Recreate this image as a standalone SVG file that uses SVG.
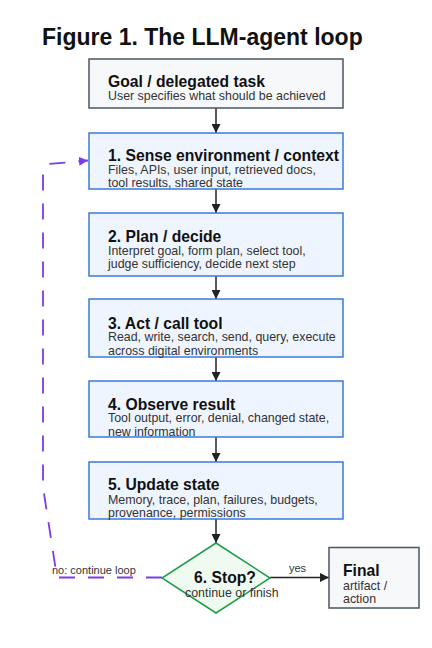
<svg xmlns="http://www.w3.org/2000/svg" width="432" height="648" viewBox="0 0 432 648">
<defs>
<style>
.ttl{font-family:"Liberation Sans",Arial,sans-serif;font-weight:bold;font-size:23px;fill:#111}
.h{font-family:"Liberation Sans",Arial,sans-serif;font-weight:bold;font-size:15.7px;fill:#111}
.s{font-family:"Liberation Sans",Arial,sans-serif;font-size:12.4px;fill:#333}
.l{font-family:"Liberation Sans",Arial,sans-serif;font-size:11px;fill:#333}
.step{fill:#eef5ff;stroke:#3b78e0;stroke-width:1.5}
.term{fill:#f7f8fa;stroke:#4b5563;stroke-width:1.5}
.dec{fill:#effbf1;stroke:#1f9d4a;stroke-width:1.5}
.e{stroke:#222;stroke-width:1.5;fill:none}
.loop{stroke:#7c3aed;stroke-width:1.8;fill:none;stroke-dasharray:16 13}
</style>
<marker id="ah" viewBox="0 0 10 10" refX="10" refY="5" markerWidth="9" markerHeight="9" markerUnits="userSpaceOnUse" orient="auto">
<path d="M0,0 L10,5 L0,10 z" fill="#222"/>
</marker>
<marker id="ap" viewBox="0 0 10 10" refX="10" refY="5" markerWidth="9" markerHeight="9" markerUnits="userSpaceOnUse" orient="auto">
<path d="M0,0 L10,5 L0,10 z" fill="#7c3aed"/>
</marker>
</defs>
<rect width="432" height="648" fill="#fff"/>
<text class="ttl" x="42" y="45">Figure 1. The LLM-agent loop</text>

<g id="connectors">
<line class="e" x1="216" y1="108" x2="216" y2="133" marker-end="url(#ah)"/>
<line class="e" x1="216" y1="189" x2="216" y2="213" marker-end="url(#ah)"/>
<line class="e" x1="216" y1="276" x2="216" y2="299" marker-end="url(#ah)"/>
<line class="e" x1="216" y1="357" x2="216" y2="381" marker-end="url(#ah)"/>
<line class="e" x1="216" y1="437" x2="216" y2="462" marker-end="url(#ah)"/>
<line class="e" x1="216" y1="519" x2="216" y2="543" marker-end="url(#ah)"/>
<line class="e" x1="270" y1="577.5" x2="329" y2="577.5" marker-end="url(#ah)"/>
<text class="l" x="289" y="571.5">yes</text>
<path class="loop" d="M162,577.5 L57,577.5 L43,487 L43,172 L49,164 L88,160.5" marker-end="url(#ap)"/>
<text class="l" x="52" y="574">no: continue loop</text>
</g>

<g id="goal">
<rect class="term" x="89" y="59" width="254" height="49"/>
<text class="h" x="108" y="87">Goal / delegated task</text>
<text class="s" x="108" y="100">User specifies what should be achieved</text>
</g>

<g id="sense">
<rect class="step" x="89" y="133" width="254" height="56"/>
<text class="h" x="108" y="161">1. Sense environment / context</text>
<text class="s" x="108" y="173.5">Files, APIs, user input, retrieved docs,</text>
<text class="s" x="108" y="186.5">tool results, shared state</text>
</g>

<g id="plan">
<rect class="step" x="89" y="213" width="254" height="63"/>
<text class="h" x="108" y="242">2. Plan / decide</text>
<text class="s" x="108" y="254.5">Interpret goal, form plan, select tool,</text>
<text class="s" x="108" y="268">judge sufficiency, decide next step</text>
</g>

<g id="act">
<rect class="step" x="89" y="299" width="254" height="58"/>
<text class="h" x="108" y="328.5">3. Act / call tool</text>
<text class="s" x="108" y="341">Read, write, search, send, query, execute</text>
<text class="s" x="108" y="354.5">across digital environments</text>
</g>

<g id="observe">
<rect class="step" x="89" y="381" width="254" height="56"/>
<text class="h" x="108" y="409.5">4. Observe result</text>
<text class="s" x="108" y="422">Tool output, error, denial, changed state,</text>
<text class="s" x="108" y="436">new information</text>
</g>

<g id="update">
<rect class="step" x="89" y="462" width="254" height="57"/>
<text class="h" x="108" y="490">5. Update state</text>
<text class="s" x="108" y="503.5">Memory, trace, plan, failures, budgets,</text>
<text class="s" x="108" y="516.5">provenance, permissions</text>
</g>

<g id="stop">
<polygon class="dec" points="216,543 270,578 216,613 162,578"/>
<text class="h" x="194" y="583">6. Stop?</text>
<text class="s" x="185" y="596.5">continue or finish</text>
</g>

<g id="final">
<rect class="term" x="329" y="547.5" width="90" height="60.5"/>
<text class="h" x="343" y="576">Final</text>
<text class="s" x="343" y="589.5">artifact /</text>
<text class="s" x="343" y="603">action</text>
</g>
</svg>
